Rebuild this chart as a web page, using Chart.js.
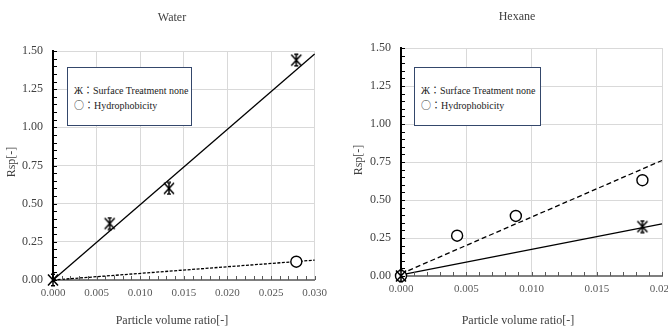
<!DOCTYPE html>
<html>
<head>
<meta charset="utf-8">
<script src="https://cdn.jsdelivr.net/npm/chart.js@4/dist/chart.umd.min.js"></script>
<style>
  body { margin: 0; background: #fff; width: 668px; height: 329px; overflow: hidden; position: relative; }
  .panel { position: absolute; top: 0; width: 334px; height: 329px; overflow: hidden; }
  .legend {
    position: absolute; background: #fff; border: 1px solid #34476b;
    font: 10px "Liberation Serif", serif; color: #222; line-height: 14px;
    box-sizing: border-box; padding-left: 6px;
  }
  .sym { font-family: "Noto Sans CJK JP", serif; font-size: 10px; }
</style>
</head>
<body>
<div class="panel" style="left:0">
  <canvas id="waterChart" width="334" height="329"></canvas>
  <div class="legend" style="left:67px;top:67px;width:125px;height:59px;padding-top:15px"><span>Ж</span><span class="sym">：</span>Surface Treatment none<br><span class="sym">○：</span>Hydrophobicity</div>
</div>
<div class="panel" style="left:334px">
  <canvas id="hexaneChart" width="360" height="329"></canvas>
  <div class="legend" style="left:80px;top:67px;width:127px;height:59px;padding-top:15px"><span>Ж</span><span class="sym">：</span>Surface Treatment none<br><span class="sym">○：</span>Hydrophobicity</div>
</div>
<script>
// Water
const waterNoneX = [0, 0.0065, 0.0133, 0.0279];
const waterNoneY = [0, 0.37, 0.60, 1.44];
const waterHydroX = [0.0279];
const waterHydroY = [0.12];
const waterFitX = [0, 0.030];
const waterNoneFitY = [0, 1.48];
const waterHydroFitY = [0, 0.13];

// Hexane
const hexNoneX = [0, 0.0185];
const hexNoneY = [0, 0.325];
const hexHydroX = [0, 0.0043, 0.0088, 0.0185];
const hexHydroY = [0, 0.265, 0.395, 0.63];
const hexFitX = [0, 0.020];
const hexNoneFitY = [0.007, 0.343];
const hexHydroFitY = [0.015, 0.76];

const yTicks = [0, 0.25, 0.5, 0.75, 1.0, 1.25, 1.5];

const serif = "'Liberation Serif', 'Times New Roman', serif";

function pts(xs, ys) {
  return xs.map((x, i) => ({ x: x, y: ys[i] }));
}

// asterisk marker (vertical stroke + X)
const star = document.createElement("canvas");
star.width = 14;
star.height = 14;
(function () {
  const c = star.getContext("2d");
  c.strokeStyle = "#000";
  c.lineWidth = 1.5;
  c.beginPath();
  c.moveTo(7, 1); c.lineTo(7, 13);
  c.moveTo(2, 1.5); c.lineTo(12, 12.5);
  c.moveTo(12, 1.5); c.lineTo(2, 12.5);
  c.moveTo(5, 1.2); c.lineTo(9, 1.2);
  c.moveTo(5, 12.8); c.lineTo(9, 12.8);
  c.stroke();
})();

// minor ticks and text placed by the plugin options
const extras = {
  id: "extras",
  afterDraw(chart, args, o) {
    const { ctx, chartArea: a } = chart;
    const x = chart.scales.x, y = chart.scales.y;
    ctx.save();
    ctx.beginPath();
    ctx.strokeStyle = "#000";
    ctx.lineWidth = 1;
    for (let i = 0; i <= 30; i++) {
      const py = Math.round(y.getPixelForValue(i * 0.05)) + 0.5;
      ctx.moveTo(a.left, py);
      ctx.lineTo(a.left + 4, py);
    }
    ctx.stroke();
    ctx.beginPath();
    ctx.strokeStyle = "#595959";
    const n = Math.round(x.max / 0.001);
    for (let i = 1; i <= n; i++) {
      const px = Math.round(x.getPixelForValue(i * 0.001)) + 0.5;
      ctx.moveTo(px, a.bottom);
      ctx.lineTo(px, a.bottom - 4);
    }
    ctx.stroke();

    ctx.fillStyle = "#404040";
    ctx.textAlign = "center";
    ctx.textBaseline = "middle";
    ctx.font = "12px " + serif;
    ctx.fillText(o.title, o.titleX, o.titleY);
    ctx.fillText("Particle volume ratio[-]", o.xTitleX, o.xTitleY);
    ctx.translate(o.yTitleX, o.yTitleY);
    ctx.rotate(-Math.PI / 2);
    ctx.fillText("Rsp[-]", 0, 0);
    ctx.restore();
  },
};

function makeChart(id, cfg) {
  const ctx = document.getElementById(id).getContext("2d");
  return new Chart(ctx, {
    type: "scatter",
    data: {
      datasets: [
        {
          label: "Surface Treatment none",
          data: pts(cfg.noneX, cfg.noneY),
          pointStyle: star,
          order: 0,
        },
        {
          label: "Hydrophobicity",
          data: pts(cfg.hydroX, cfg.hydroY),
          pointStyle: "circle",
          pointRadius: 5.5,
          borderColor: "#000",
          borderWidth: 1.4,
          backgroundColor: "#fff",
          order: 1,
        },
        {
          label: "Surface Treatment none fit",
          data: pts(cfg.fitX, cfg.noneFitY),
          showLine: true,
          borderColor: "#000",
          borderWidth: 1.3,
          pointRadius: 0,
          order: 2,
        },
        {
          label: "Hydrophobicity fit",
          data: pts(cfg.fitX, cfg.hydroFitY),
          showLine: true,
          borderColor: "#000",
          borderWidth: 1.3,
          borderDash: cfg.dash,
          pointRadius: 0,
          order: 3,
        },
      ],
    },
    options: {
      responsive: false,
      animation: false,
      clip: false,
      layout: { padding: { left: 0, top: cfg.top, right: cfg.right, bottom: 0 } },
      plugins: {
        legend: { display: false },
        tooltip: { enabled: false },
        extras: cfg.text,
      },
      scales: {
        x: {
          type: "linear",
          min: 0,
          max: cfg.xMax,
          afterFit: (s) => { s.height = cfg.xHeight; },
          ticks: {
            stepSize: 0.005,
            padding: 7,
            color: "#595959",
            font: { family: serif, size: 11 },
            callback: (v) => v.toFixed(3),
          },
          grid: { color: "#d9d9d9", drawTicks: false },
          border: { color: "#7f7f7f", width: 2 },
        },
        y: {
          min: 0,
          max: 1.5,
          afterFit: (s) => { s.width = cfg.yWidth; },
          afterBuildTicks: (s) => { s.ticks = yTicks.map((v) => ({ value: v })); },
          ticks: {
            padding: 10,
            color: "#404040",
            font: { family: serif, size: 12 },
            callback: (v) => v.toFixed(2),
          },
          grid: { color: "#d9d9d9", drawTicks: false },
          border: { color: "#000", width: 2 },
        },
      },
    },
    plugins: [extras],
  });
}

makeChart("waterChart", {
  noneX: waterNoneX, noneY: waterNoneY,
  hydroX: waterHydroX, hydroY: waterHydroY,
  fitX: waterFitX, noneFitY: waterNoneFitY, hydroFitY: waterHydroFitY,
  dash: [3, 1.5],
  xMax: 0.030,
  top: 51, right: 19, xHeight: 49, yWidth: 53,
  text: { title: "Water", titleX: 172, titleY: 18, xTitleX: 172, xTitleY: 321, yTitleX: 12, yTitleY: 162 },
});

makeChart("hexaneChart", {
  noneX: hexNoneX, noneY: hexNoneY,
  hydroX: hexHydroX, hydroY: hexHydroY,
  fitX: hexFitX, noneFitY: hexNoneFitY, hydroFitY: hexHydroFitY,
  dash: [5, 3],
  xMax: 0.020,
  top: 48, right: 32, xHeight: 53, yWidth: 67,
  text: { title: "Hexane", titleX: 183, titleY: 17, xTitleX: 184, xTitleY: 321, yTitleX: 25, yTitleY: 160 },
});
</script>
</body>
</html>
